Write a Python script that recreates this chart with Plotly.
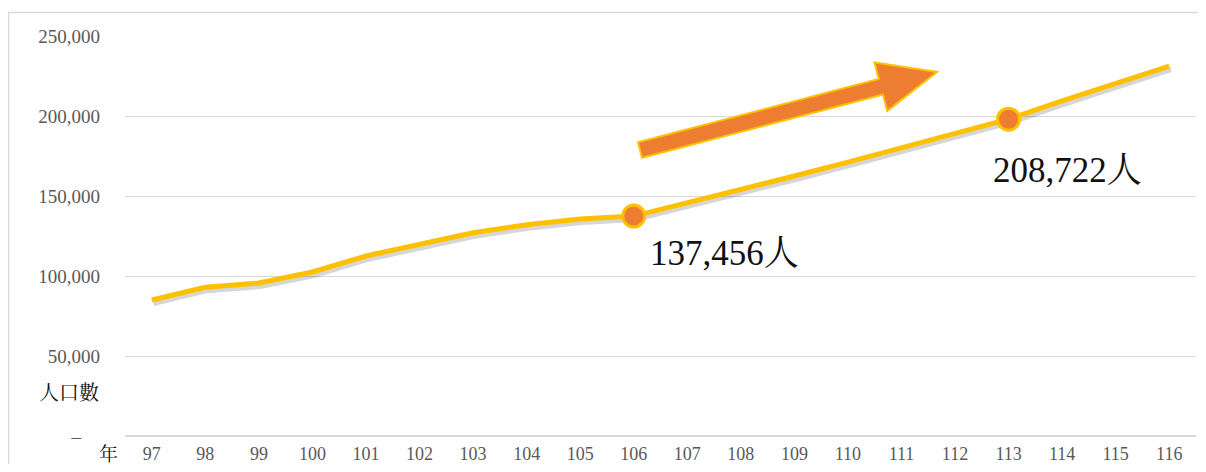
import math
import plotly.graph_objects as go

years = [97, 98, 99, 100, 101, 102, 103, 104, 105, 106, 107, 108, 109, 110, 111, 112, 113, 114, 115, 116]
population = [85000, 93000, 95600, 102500, 112500, 120000, 127000, 132000, 135600, 137456,
              145600, 153700, 162500, 171200, 180000, 189400, 198000, 209400, 220000, 231200]
highlight_years = [106, 113]
highlight_labels = ["137,456人", "208,722人"]
y_ticks = [0, 50000, 100000, 150000, 200000, 250000]
y_ticktext = ["–\u00a0\u00a0\u00a0\u00a0", "50,000", "100,000", "150,000", "200,000", "250,000"]

# page body has an 8px margin; figure sized/placed to compensate
OFF = 8
W, H = 1190, 456
ML, MR, MT, MB = 117, 2, 28, 28
XR = [96.5, 116.5]
YR = [0, 250000]
pw, ph = W - ML - MR, H - MT - MB

def px_to_data(px, py):
    px -= OFF
    py -= OFF
    x = XR[0] + (px - ML) / pw * (XR[1] - XR[0])
    y = YR[0] + (H - MB - py) / ph * (YR[1] - YR[0])
    return x, y

def px_to_paper(px, py):
    px -= OFF
    py -= OFF
    return (px - ML) / pw, (H - MB - py) / ph

SERIF = "Liberation Serif, Noto Serif CJK TC, Noto Sans CJK TC, serif"

fig = go.Figure()

shadow_off = 3 / ph * (YR[1] - YR[0])
fig.add_trace(go.Scatter(x=[x + 0.03 for x in years], y=[v - shadow_off for v in population],
                         mode="lines", line=dict(color="rgba(0,0,0,0.16)", width=6),
                         hoverinfo="skip", showlegend=False))
fig.add_trace(go.Scatter(x=years, y=population, mode="lines",
                         line=dict(color="#FFC000", width=5), showlegend=False))
hy = [population[years.index(y)] for y in highlight_years]
fig.add_trace(go.Scatter(x=highlight_years, y=hy, mode="markers",
                         marker=dict(size=22, color="#ED7D31", line=dict(color="#FFC000", width=3)),
                         showlegend=False))

fig.add_annotation(x=highlight_years[0], y=hy[0], text=highlight_labels[0], showarrow=False,
                   xanchor="left", yanchor="top", xshift=14, yshift=-16,
                   font=dict(family=SERIF, size=35, color="#111111"))
fig.add_annotation(x=highlight_years[1], y=hy[1], text=highlight_labels[1], showarrow=False,
                   xanchor="left", yanchor="top", xshift=-18, yshift=-30,
                   font=dict(family=SERIF, size=35, color="#111111"))

# arrow decoration
tail = (640, 150)
tip = (937, 72)
dx, dy = tip[0] - tail[0], tip[1] - tail[1]
L = math.hypot(dx, dy)
ux, uy = dx / L, dy / L
nx, ny = -uy, ux
hw, headw, headl = 8, 25, 58
bx, by = tip[0] - ux * headl, tip[1] - uy * headl
pts = [
    (tail[0] + nx * hw, tail[1] + ny * hw),
    (bx + nx * hw, by + ny * hw),
    (bx + nx * headw, by + ny * headw),
    tip,
    (bx - nx * headw, by - ny * headw),
    (bx - nx * hw, by - ny * hw),
    (tail[0] - nx * hw, tail[1] - ny * hw),
]
dpts = [px_to_data(*p) for p in pts]
path = "M " + " L ".join(f"{x},{y}" for x, y in dpts) + " Z"
fig.add_shape(type="path", path=path, xref="x", yref="y",
              fillcolor="#ED7D31", line=dict(color="#FFC000", width=2), layer="above")

# outer border
bx0, by1 = px_to_paper(8.5, 12.5)
bx1, by0 = px_to_paper(1215, 480)
fig.add_shape(type="rect", xref="paper", yref="paper",
              x0=bx0, x1=bx1, y0=by0, y1=by1,
              line=dict(color="#D9D9D9", width=1.5), fillcolor="rgba(0,0,0,0)", layer="below")

ax, ay = px_to_paper(69, 393)
fig.add_annotation(xref="paper", yref="paper", x=ax, y=ay,
                   text="人口數", showarrow=False, xanchor="center", yanchor="middle",
                   font=dict(family=SERIF, size=20, color="#111111"))
ax, ay = px_to_paper(108, 454)
fig.add_annotation(xref="paper", yref="paper", x=ax, y=ay,
                   text="年", showarrow=False, xanchor="center", yanchor="middle",
                   font=dict(family=SERIF, size=19, color="#111111"))

fig.update_layout(
    width=W, height=H, margin=dict(l=ML, r=MR, t=MT, b=MB, autoexpand=False),
    paper_bgcolor="white", plot_bgcolor="white",
    xaxis=dict(range=XR, tickvals=years, ticktext=[str(y) for y in years],
               showgrid=False, zeroline=False, showline=False, ticks="",
               ticklabelstandoff=5, automargin=False,
               tickfont=dict(family=SERIF, size=18, color="#595959")),
    yaxis=dict(range=YR, tickvals=y_ticks, ticktext=y_ticktext,
               showgrid=True, gridcolor="#D9D9D9", gridwidth=1,
               zeroline=True, zerolinecolor="#D9D9D9", zerolinewidth=2,
               showline=False, ticks="", ticklabelstandoff=24, automargin=False,
               tickfont=dict(family=SERIF, size=19, color="#595959")),
)

fig.write_html("out.html")
